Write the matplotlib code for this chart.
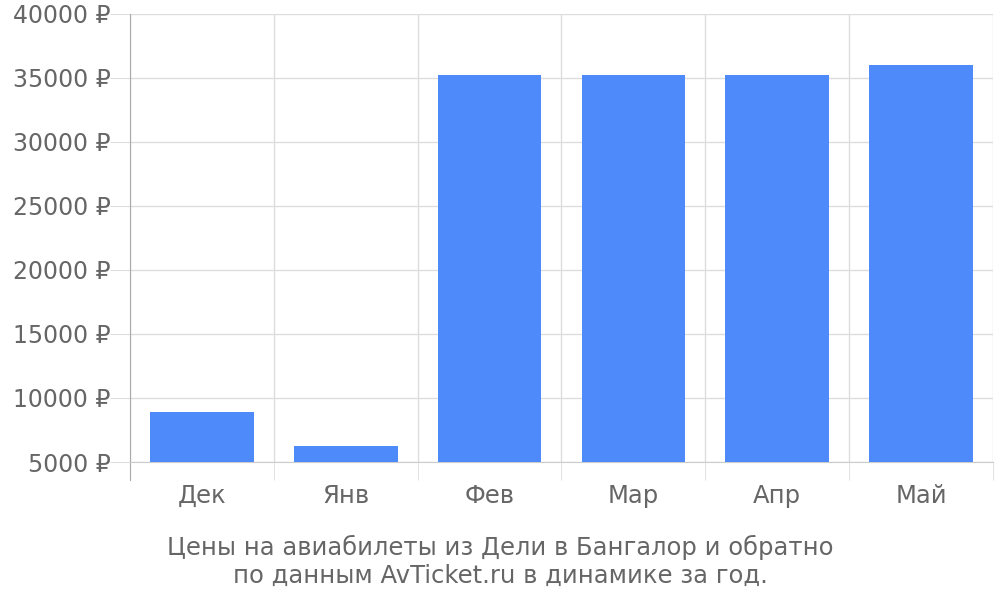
import matplotlib
matplotlib.use("Agg")
import matplotlib.pyplot as plt
import numpy as np

# Prices by month
months = ['Дек', 'Янв', 'Фев', 'Мар', 'Апр', 'Май']
prices = [8900, 6250, 35200, 35200, 35250, 36000]
yticks = [5000, 10000, 15000, 20000, 25000, 30000, 35000, 40000]
title = 'Цены на авиабилеты из Дели в Бангалор и обратно\nпо данным AvTicket.ru в динамике за год.'

plt.rcParams['font.family'] = ['DejaVu Sans']
grey = '#666666'
grid = '#dddddd'

fig = plt.figure(figsize=(10, 6), dpi=100)
ax = fig.add_axes([0.13, 0.23, 0.863, 0.7467])

x = np.arange(len(months))
ax.bar(x, prices, width=0.72, color='#4e8af9', zorder=3)

ax.set_xlim(-0.5, len(months) - 0.5)
ax.set_ylim(5000, 40000)

ax.set_yticks(yticks)
ax.set_yticklabels([f'{v} ₽' for v in yticks])
ax.set_xticks(x)
ax.set_xticklabels(months)
ax.set_xticks(np.arange(-0.5, len(months)), minor=True)

# tick lengths are in points (1pt = 1.39px here)
ax.tick_params(axis='y', length=14.5, color=grid, labelcolor=grey, labelsize=17, pad=-0.5)
ax.tick_params(axis='x', which='major', length=0, labelcolor=grey, labelsize=17.5, pad=16)
ax.tick_params(axis='x', which='minor', length=13, color=grid)

ax.grid(axis='y', color=grid, linewidth=1, zorder=0)
ax.grid(axis='x', which='minor', color=grid, linewidth=1, zorder=0)

for s in ['top', 'right']:
    ax.spines[s].set_visible(False)
ax.spines['bottom'].set_color('#cccccc')
ax.spines['left'].set_color('#aaaaaa')
ax.spines['left'].set_bounds(3600, 40000)

fig.text(0.5, 0.02, title, ha='center', va='bottom', color=grey, fontsize=17.5, linespacing=1.2)

fig.savefig('out.png')
